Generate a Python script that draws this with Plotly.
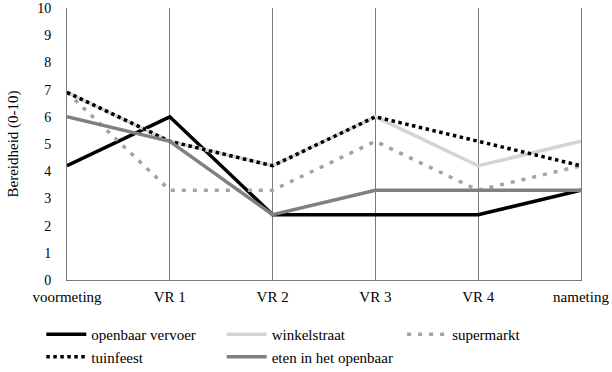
import plotly.graph_objects as go

categories = ["voormeting", "VR 1", "VR 2", "VR 3", "VR 4", "nameting"]
openbaar_vervoer = [4.2, 6.0, 2.4, 2.4, 2.4, 3.3]
winkelstraat = [6.9, 5.1, 4.2, 6.0, 4.2, 5.1]
supermarkt = [6.9, 3.3, 3.3, 5.1, 3.3, 4.2]
tuinfeest = [6.9, 5.1, 4.2, 6.0, 5.1, 4.2]
eten_in_het_openbaar = [6.0, 5.1, 2.4, 3.3, 3.3, 3.3]
y_ticks = list(range(0, 11))

FONT = "Liberation Serif"

series = [
    ("openbaar vervoer", openbaar_vervoer, "#000000", "solid", "legend"),
    ("winkelstraat", winkelstraat, "#d4d4d4", "solid", "legend2"),
    ("supermarkt", supermarkt, "#a3a3a3", "4px,7px", "legend3"),
    ("tuinfeest", tuinfeest, "#000000", "dot", "legend"),
    ("eten in het openbaar", eten_in_het_openbaar, "#808080", "solid", "legend2"),
]

fig = go.Figure()
for name, vals, color, dash, leg in series:
    fig.add_trace(go.Scatter(
        x=categories, y=vals, name=name, mode="lines", legend=leg,
        line=dict(color=color, dash=dash, width=3.5),
    ))

def legend_at(x):
    return dict(
        orientation="v", x=x, xanchor="left", y=-0.14, yanchor="top",
        font=dict(family=FONT, size=15, color="#000000"),
        tracegroupgap=0, itemwidth=40, bgcolor="rgba(0,0,0,0)",
    )

fig.update_layout(
    width=612, height=372,
    margin=dict(l=67, r=31, t=8, b=92, autoexpand=False),
    paper_bgcolor="white", plot_bgcolor="white",
    font=dict(family=FONT, size=15, color="#000000"),
    showlegend=True,
    legend=legend_at(-0.05),
    legend2=legend_at(0.301),
    legend3=legend_at(0.652),
)
fig.update_xaxes(
    type="category", range=[0, 5], automargin=False,
    showgrid=True, gridcolor="#7a7a7a", gridwidth=1,
    showline=True, linecolor="#7a7a7a", linewidth=1,
    ticks="", ticklabelstandoff=3, tickfont=dict(family=FONT, size=15),
    fixedrange=True,
)
fig.update_yaxes(
    range=[0, 10], tickvals=y_ticks, ticktext=[str(v) for v in y_ticks],
    showgrid=False, zeroline=False, automargin=False,
    showline=True, mirror=True, linecolor="#7a7a7a", linewidth=1,
    ticks="", ticklabelstandoff=12, tickfont=dict(family=FONT, size=14),
    title=dict(text="Bereidheid (0-10)", font=dict(family=FONT, size=15), standoff=14),
    fixedrange=True,
)

fig.write_html(
    "out.html",
    config={"displayModeBar": False},
    post_script="document.body.style.margin='0';document.body.style.overflow='hidden';",
)
